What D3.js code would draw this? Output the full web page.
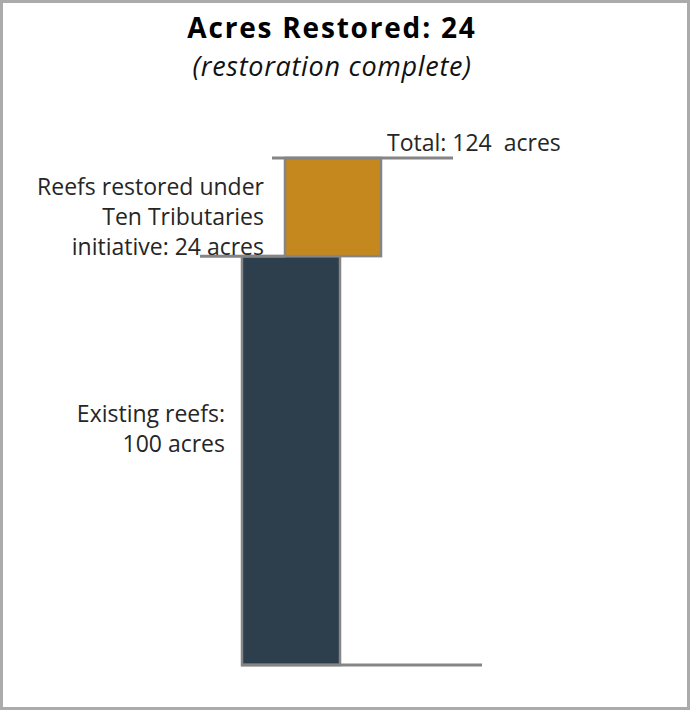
<!DOCTYPE html>
<html>
<head>
<meta charset="utf-8">
<script src="https://cdnjs.cloudflare.com/ajax/libs/d3/7.8.5/d3.min.js"></script>
<style>
  body { margin: 0; background: #fff; }
  text { font-family: "Open Sans", sans-serif; fill: #262626; white-space: pre; }
</style>
</head>
<body>
<div id="chart"></div>
<script>
var svgWidth = 690;
var svgHeight = 710;

// chart data
var segments = ['Existing reefs', 'Ten Tributaries'];
var acres = [100, 24];
var colors = ['#2d3e4d', '#c4881e'];
var total = 124;

var svg = d3.select('#chart')
            .append('svg')
            .attr('width', svgWidth)
            .attr('height', svgHeight);

// outer border
svg.append('rect')
   .attr('x', 1.5).attr('y', 1.5)
   .attr('width', svgWidth - 3).attr('height', svgHeight - 3)
   .attr('fill', 'none')
   .attr('stroke', '#ababab')
   .attr('stroke-width', 3);

// title
svg.append('text')
   .attr('x', 332).attr('y', 38)
   .attr('text-anchor', 'middle')
   .style('font-size', '28px')
   .style('font-weight', 'bold')
   .style('letter-spacing', '1.8px')
   .style('fill', '#000')
   .text('Acres Restored: ' + acres[1]);

svg.append('text')
   .attr('x', 332).attr('y', 76)
   .attr('text-anchor', 'middle')
   .style('font-size', '27px')
   .style('font-style', 'italic')
   .style('letter-spacing', '0.7px')
   .style('fill', '#111')
   .text('(restoration complete)');

// vertical scale
var yScale = d3.scaleLinear()
               .domain([0, total])
               .range([665, 158]);

// stacked values
var stack = [];
var base = 0;
acres.forEach(function(v, i) {
    stack.push({ name: segments[i], y0: base, y1: base + v, color: colors[i] });
    base += v;
});

var xPos = [242, 285];
var barW = [98, 96];

svg.selectAll('rect.bar').data(stack).enter()
   .append('rect')
   .attr('class', 'bar')
   .attr('x', (d, i) => xPos[i])
   .attr('y', d => yScale(d.y1))
   .attr('width', (d, i) => barW[i])
   .attr('height', d => yScale(d.y0) - yScale(d.y1))
   .attr('fill', d => d.color)
   .attr('stroke', '#858585')
   .attr('stroke-width', 2.5);

// reference lines
var lines = [
    { v: 0, x1: 241, x2: 482 },
    { v: acres[0], x1: 200, x2: 285 },
    { v: total, x1: 272, x2: 453 }
];

svg.selectAll('line.ref').data(lines).enter()
   .append('line')
   .attr('class', 'ref')
   .attr('x1', d => d.x1).attr('x2', d => d.x2)
   .attr('y1', d => yScale(d.v)).attr('y2', d => yScale(d.v))
   .attr('stroke', '#858585')
   .attr('stroke-width', 3);

// labels
svg.append('text')
   .attr('x', 387).attr('y', 151)
   .style('font-size', '23px')
   .text('Total: ' + total + '  acres');

var g1 = svg.append('text')
   .attr('text-anchor', 'end')
   .style('font-size', '23px');
['Reefs restored under', 'Ten Tributaries', 'initiative: ' + acres[1] + ' acres'].forEach(function(t, i) {
    g1.append('tspan').attr('x', 264).attr('y', 195 + i * 30).text(t);
});

var g2 = svg.append('text')
   .attr('text-anchor', 'end')
   .style('font-size', '23px');
['Existing reefs:', acres[0] + ' acres'].forEach(function(t, i) {
    g2.append('tspan').attr('x', 225).attr('y', 422 + i * 30).text(t);
});
</script>
</body>
</html>
